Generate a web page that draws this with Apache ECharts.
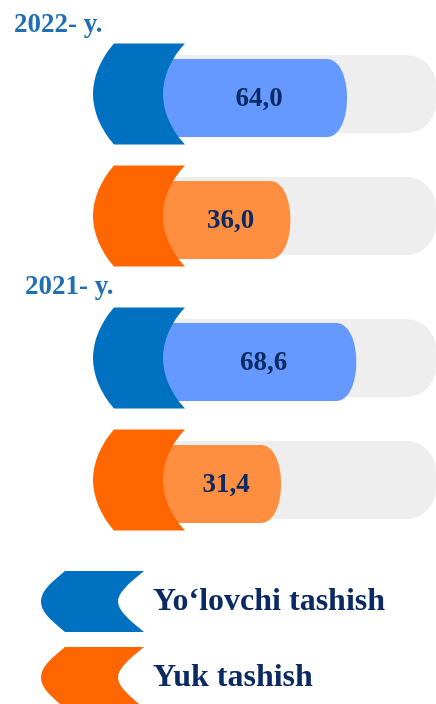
<!DOCTYPE html>
<html><head><meta charset="utf-8">
<script src="https://cdn.jsdelivr.net/npm/echarts@6/dist/echarts.min.js"></script>
<style>html,body{margin:0;padding:0;background:#fff}#c{width:436px;height:704px}</style>
</head><body><div id="c"></div>
<script>
// ---- data ----
const years = ['2022- y.', '2021- y.'];
const categories = ['Yo‘lovchi tashish', 'Yuk tashish'];
const passenger = [64.0, 68.6];   // 2022, 2021
const cargo = [36.0, 31.4];       // 2022, 2021
const axisMin = -27, axisMax = 108;

const valuesByCat = [passenger, cargo];
const capColors = ['#0070C0', '#FF6600'];
const barColors = ['#6699FF', '#FF8F40'];
const trackColor = '#EEEEEE';
const labelColor = '#0B2A63';
const titleColor = '#1F6FB2';
const SERIF = '"Liberation Serif", "Times New Roman", serif';

function fmt(v) { return v.toFixed(1).replace('.', ','); }

function makeRender(j) {
  return function (params, api) {
    const cs = params.coordSys;
    const v = api.value(0);
    const ci = api.value(1);
    const start = api.coord([axisMin, ci]);
    const end = api.coord([v, ci]);
    const cy = end[1];
    const x0 = start[0];
    const xe = end[0];
    const h = 78;
    const y0 = cy - h / 2;
    const barPath = 'M' + x0 + ',' + y0 +
      ' L' + (xe - 20) + ',' + y0 +
      ' C' + (xe - 8) + ',' + y0 + ' ' + xe + ',' + (y0 + h * 0.22) + ' ' + xe + ',' + (y0 + h / 2) +
      ' C' + xe + ',' + (y0 + h * 0.78) + ' ' + (xe - 8) + ',' + (y0 + h) + ' ' + (xe - 20) + ',' + (y0 + h) +
      ' L' + x0 + ',' + (y0 + h) + ' Z';
    const cx = x0 - 70, ct = cy - 4 - 50.5;
    const P = (a, b) => (cx + a) + ',' + (ct + b);
    const capPath = 'M' + P(21, 0) + ' L' + P(92, 0) +
      ' C' + P(77, 16) + ' ' + P(70, 34) + ' ' + P(70, 50.5) +
      ' C' + P(70, 67) + ' ' + P(77, 85) + ' ' + P(92, 101) +
      ' L' + P(21, 101) +
      ' C' + P(7, 85) + ' ' + P(0, 67) + ' ' + P(0, 50.5) +
      ' C' + P(0, 34) + ' ' + P(7, 16) + ' ' + P(21, 0) + ' Z';
    return {
      type: 'group',
      children: [
        { type: 'rect', shape: { x: cs.x + 10, y: cy - 4 - 39, width: cs.width - 10, height: 78, r: [0, 30, 30, 0] },
          style: { fill: trackColor } },
        { type: 'path', shape: { pathData: barPath }, style: { fill: barColors[j] } },
        { type: 'path', shape: { pathData: capPath }, style: { fill: capColors[j] } },
        { type: 'text', x: (x0 + xe) / 2 + 4, y: cy + 1,
          style: { text: fmt(v), textAlign: 'center', textVerticalAlign: 'middle',
                   font: 'bold 27px ' + SERIF, fill: labelColor } }
      ]
    };
  };
}

const series = [];
years.forEach((y, i) => {
  categories.forEach((c, j) => {
    series.push({
      type: 'custom', name: c, xAxisIndex: i, yAxisIndex: i,
      itemStyle: { color: capColors[j] },
      encode: { x: 0, y: 1 },
      data: [[valuesByCat[j][i], c]],
      renderItem: makeRender(j)
    });
  });
});

const chart = echarts.init(document.getElementById('c'), null, { renderer: 'canvas' });
chart.setOption({
  animation: false,
  backgroundColor: '#ffffff',
  title: [
    { text: years[0], left: 14, top: 12, padding: 0,
      textStyle: { fontFamily: SERIF, fontWeight: 'bold', fontSize: 27, color: titleColor } },
    { text: years[1], left: 25, top: 274, padding: 0,
      textStyle: { fontFamily: SERIF, fontWeight: 'bold', fontSize: 27, color: titleColor } }
  ],
  grid: [
    { left: 163, right: 0, top: 37, height: 244 },
    { left: 163, right: 0, top: 301, height: 244 }
  ],
  xAxis: [
    { gridIndex: 0, type: 'value', min: axisMin, max: axisMax, show: false },
    { gridIndex: 1, type: 'value', min: axisMin, max: axisMax, show: false }
  ],
  yAxis: [
    { gridIndex: 0, type: 'category', data: categories, inverse: true, show: false },
    { gridIndex: 1, type: 'category', data: categories, inverse: true, show: false }
  ],
  legend: {
    orient: 'vertical', left: 41, top: 571, height: 160, padding: 0,
    itemWidth: 103, itemHeight: 61, itemGap: 15, selectedMode: false,
    icon: 'path://M24,0 L103,0 C87,13 77,22 77,30.5 C77,39 87,48 103,61 L24,61 C8,48 0,40 0,30.5 C0,21 8,13 24,0 Z',
    data: categories.map((n, j) => ({ name: n, itemStyle: { color: capColors[j] } })),
    textStyle: { fontFamily: SERIF, fontWeight: 'bold', fontSize: 32, color: labelColor, padding: [0, 0, 0, 4] }
  },
  series: series
});
</script>
</body></html>
